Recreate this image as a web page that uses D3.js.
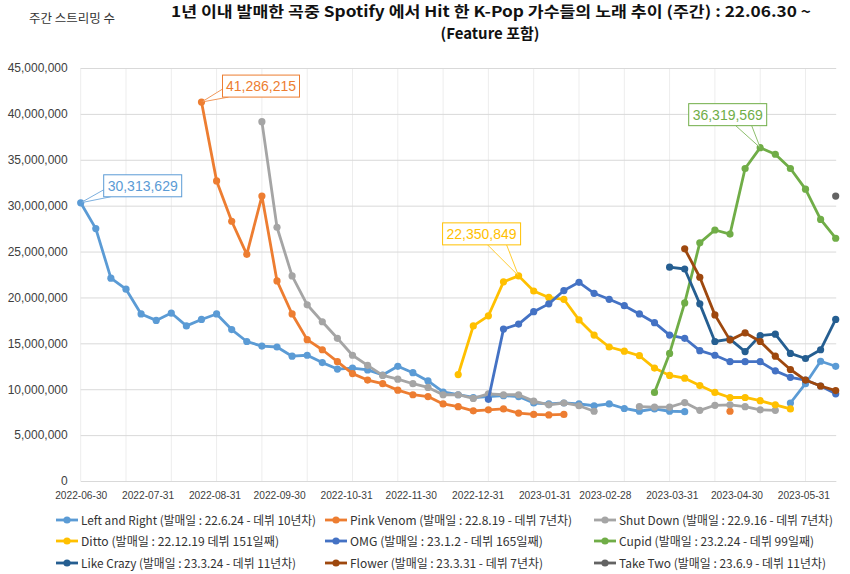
<!DOCTYPE html>
<html><head><meta charset="utf-8">
<script src="https://cdn.jsdelivr.net/npm/d3@7/dist/d3.min.js"></script>
<style>
body{margin:0;background:#fff}
svg{display:block;font-family:"Liberation Sans",Arial,"Noto Sans CJK KR",sans-serif}
</style>
</head><body>
<svg id="c" width="850" height="574"></svg>
<script>
const N = null;
const UNIT = 1e6; // values below are in millions of weekly streams

const weeks = ["2022-06-30","2022-07-07","2022-07-14","2022-07-21","2022-07-28","2022-08-04","2022-08-11","2022-08-18","2022-08-25","2022-09-01",
"2022-09-08","2022-09-15","2022-09-22","2022-09-29","2022-10-06","2022-10-13","2022-10-20","2022-10-27","2022-11-03","2022-11-10",
"2022-11-17","2022-11-24","2022-12-01","2022-12-08","2022-12-15","2022-12-22","2022-12-29","2023-01-05","2023-01-12","2023-01-19",
"2023-01-26","2023-02-02","2023-02-09","2023-02-16","2023-02-23","2023-03-02","2023-03-09","2023-03-16","2023-03-23","2023-03-30",
"2023-04-06","2023-04-13","2023-04-20","2023-04-27","2023-05-04","2023-05-11","2023-05-18","2023-05-25","2023-06-01","2023-06-08",
"2023-06-15"];

const xTickLabels = ["2022-06-30","2022-07-31","2022-08-31","2022-09-30","2022-10-31","2022-11-30","2022-12-31","2023-01-31","2023-02-28","2023-03-31","2023-04-30","2023-05-31"];
const yTicks = [0,5,10,15,20,25,30,35,40,45];

const leftAndRight = [30.313629,27.5,22.1,20.9,18.2,17.5,18.3,16.9,17.6,18.2,
16.5,15.2,14.7,14.6,13.6,13.7,12.9,12.2,12.3,12.1,
11.55,12.5,11.8,10.9,9.7,9.4,9.1,9.2,9.3,9.2,
8.5,8.4,8.5,8.4,8.2,8.4,7.9,7.6,7.85,7.6,
7.55,N,N,N,N,N,N,8.5,10.6,13.05,
12.5];
const pinkVenom = [N,N,N,N,N,N,N,N,41.286215,32.7,
28.3,24.7,31.05,21.8,18.2,15.4,14.3,13.0,11.7,11.0,
10.6,9.9,9.4,9.2,8.4,8.1,7.65,7.75,7.85,7.4,
7.25,7.2,7.25,N,N,N,N,N,N,N,
N,N,N,7.6,N,N,N,N,N,N,
N];
const shutDown = [N,N,N,N,N,N,N,N,N,N,
N,N,39.15,27.65,22.35,19.2,17.35,15.55,13.7,12.6,
11.5,11.1,10.6,10.2,9.4,9.4,9.0,9.5,9.4,9.4,
8.7,8.3,8.5,8.2,7.6,N,N,8.1,8.05,8.05,
8.55,7.7,8.25,8.3,8.1,7.75,7.7,N,N,N,
N];
const ditto = [N,N,N,N,N,N,N,N,N,N,
N,N,N,N,N,N,N,N,N,N,
N,N,N,N,N,11.6,16.9,18.0,21.7,22.350849,
20.7,20.0,19.8,17.55,15.9,14.6,14.15,13.65,12.3,11.5,
11.2,10.4,9.65,9.1,9.1,8.75,8.3,7.85,N,N,
N];
const omg = [N,N,N,N,N,N,N,N,N,N,
N,N,N,N,N,N,N,N,N,N,
N,N,N,N,N,N,N,8.9,16.55,17.1,
18.45,19.3,20.75,21.65,20.45,19.8,19.1,18.2,17.25,15.9,
15.55,14.2,13.7,13.0,13.0,13.0,12.0,11.3,11.0,10.35,
9.5];
const cupid = [N,N,N,N,N,N,N,N,N,N,
N,N,N,N,N,N,N,N,N,N,
N,N,N,N,N,N,N,N,N,N,
N,N,N,N,N,N,N,N,9.65,13.9,
19.4,25.95,27.35,26.9,34.05,36.319569,35.6,34.05,31.8,28.5,
26.45];
const likeCrazy = [N,N,N,N,N,N,N,N,N,N,
N,N,N,N,N,N,N,N,N,N,
N,N,N,N,N,N,N,N,N,N,
N,N,N,N,N,N,N,N,N,23.3,
23.1,19.3,15.2,15.45,14.1,15.85,16.0,13.9,13.35,14.3,
17.6];
const flower = [N,N,N,N,N,N,N,N,N,N,
N,N,N,N,N,N,N,N,N,N,
N,N,N,N,N,N,N,N,N,N,
N,N,N,N,N,N,N,N,N,N,
25.3,22.2,18.1,15.35,16.15,15.2,13.6,12.15,11.0,10.35,
9.85];
const takeTwo = [N,N,N,N,N,N,N,N,N,N,
N,N,N,N,N,N,N,N,N,N,
N,N,N,N,N,N,N,N,N,N,
N,N,N,N,N,N,N,N,N,N,
N,N,N,N,N,N,N,N,N,N,
31.05];

const seriesLabels = [
"Left and Right (발매일 : 22.6.24 - 데뷔 10년차)",
"Pink Venom (발매일 : 22.8.19  - 데뷔 7년차)",
"Shut Down (발매일 : 22.9.16 - 데뷔 7년차)",
"Ditto (발매일 : 22.12.19 데뷔 151일째)",
"OMG (발매일 : 23.1.2 - 데뷔 165일째)",
"Cupid (발매일 : 23.2.24 - 데뷔 99일째)",
"Like Crazy (발매일 : 23.3.24 - 데뷔 11년차)",
"Flower (발매일 : 23.3.31 - 데뷔 7년차)",
"Take Two (발매일 : 23.6.9 - 데뷔 11년차)"];
const seriesValues = [leftAndRight,pinkVenom,shutDown,ditto,omg,cupid,likeCrazy,flower,takeTwo];
const seriesColors = ["#5B9BD5","#ED7D31","#A5A5A5","#FFC000","#4472C4","#70AD47","#255E91","#9E480E","#636363"];

const titleLine1 = "1년 이내 발매한 곡중 Spotify 에서 Hit 한 K-Pop 가수들의 노래 추이 (주간) : 22.06.30 ~";
const titleLine2 = "(Feature 포함)";
const yAxisTitle = "주간 스트리밍 수";

// ---------- layout ----------
const parse = d3.timeParse("%Y-%m-%d");
const dates = weeks.map(parse);
const L = 80.7, R = 835.7, T = 68, B = 481;
const svg = d3.select("#c");
svg.append("rect").attr("width",850).attr("height",574).attr("fill","#fff");

const x = d3.scaleTime().domain([dates[0], dates[dates.length-1]]).range([L, R]);
const y = d3.scaleLinear().domain([0, 45*UNIT]).range([B, T]);

// vertical gridlines every 3 weeks
const vgrid = d3.range(0, dates.length, 3).map(i => dates[i]);
svg.append("g").selectAll("line").data(vgrid).join("line")
  .attr("x1", d => x(d)).attr("x2", d => x(d)).attr("y1", T).attr("y2", B)
  .attr("stroke", "#EDEDED").attr("stroke-width", 1);

// y axis with horizontal gridlines
const yAxis = d3.axisLeft(y).tickValues(yTicks.map(v => v*UNIT))
  .tickSize(-(R - L + 0.5)).tickPadding(13).tickFormat(d3.format(","));
const gy = svg.append("g").attr("transform", `translate(${L},0)`).call(yAxis);
gy.select(".domain").remove();
gy.selectAll(".tick line").attr("stroke", "#D9D9D9");
gy.selectAll(".tick text").attr("fill", "#404040").style("font-size", "12px")
  .style("font-family", '"Liberation Sans",Arial,sans-serif');

// x axis
const xAxis = d3.axisBottom(x).tickValues(xTickLabels.map(parse)).tickSize(0).tickPadding(11)
  .tickFormat(d3.timeFormat("%Y-%m-%d"));
const gx = svg.append("g").attr("transform", `translate(0,${B})`).call(xAxis);
gx.select(".domain").attr("stroke", "#D9D9D9");
gx.selectAll(".tick text").attr("fill", "#404040").style("font-size", "10.2px")
  .style("font-family", '"Liberation Sans",Arial,sans-serif');

// series
const line = d3.line().defined(d => d.v != null).x(d => x(d.date)).y(d => y(d.v*UNIT));
seriesValues.forEach((vals, s) => {
  const pts = vals.map((v, i) => ({date: dates[i], v}));
  const g = svg.append("g");
  g.append("path").datum(pts).attr("d", line).attr("fill", "none")
    .attr("stroke", seriesColors[s]).attr("stroke-width", 2.8).attr("stroke-linejoin", "round");
  g.selectAll("circle").data(pts.filter(d => d.v != null)).join("circle")
    .attr("cx", d => x(d.date)).attr("cy", d => y(d.v*UNIT)).attr("r", 3.6)
    .attr("fill", seriesColors[s]);
});

// callout data labels
const fmt = d3.format(",");
const callouts = [
  {s:0, i:0,  dx:23,    dy:-28, w:78, h:22, a:[[0,-7],[7,0]], wedgeBottom:false},
  {s:1, i:8,  dx:21,    dy:-27, w:77, h:22, a:[[0,-8],[6,0]], wedgeBottom:false},
  {s:3, i:29, dx:-76,   dy:-53, w:78, h:22, a:[[45,0],[64,0]], wedgeBottom:true},
  {s:5, i:45, dx:-71.5, dy:-44, w:78, h:22, a:[[47,0],[63,0]], wedgeBottom:true}
];
callouts.forEach(c => {
  const v = seriesValues[c.s][c.i];
  const px = x(dates[c.i]), py = y(v*UNIT);
  const bx = px + c.dx, by = py + c.dy;
  const col = seriesColors[c.s];
  const g = svg.append("g");
  const p1 = [bx + c.a[0][0], by + c.h + c.a[0][1]];
  const p2 = [bx + c.a[1][0], by + c.h + c.a[1][1]];
  g.append("path").attr("d", `M${p1[0]},${p1[1]}L${px},${py}L${p2[0]},${p2[1]}`)
    .attr("fill", "#fff").attr("stroke", col).attr("stroke-width", 0.8);
  g.append("rect").attr("x", bx).attr("y", by).attr("width", c.w).attr("height", c.h)
    .attr("fill", "#fff").attr("stroke", col).attr("stroke-width", 1);
  g.append("text").attr("x", bx + c.w/2).attr("y", by + c.h/2 + 5)
    .attr("text-anchor", "middle").attr("fill", col).style("font-size", "14px")
    .text(fmt(Math.round(v*UNIT)));
});

// titles
const KR = '"Noto Sans CJK KR","Noto Sans",sans-serif';
svg.append("text").attr("x", 171).attr("y", 17).attr("textLength", 640).attr("lengthAdjust", "spacingAndGlyphs")
  .style("font-family", KR).style("font-weight", "bold").style("font-size", "15px").attr("fill", "#111")
  .text(titleLine1);
svg.append("text").attr("x", 490).attr("y", 39).attr("text-anchor", "middle")
  .style("font-family", KR).style("font-weight", "bold").style("font-size", "15px").attr("fill", "#111")
  .text(titleLine2);
svg.append("text").attr("x", 29).attr("y", 23)
  .style("font-family", KR).style("font-size", "12.5px").attr("fill", "#333")
  .text(yAxisTitle);

// legend
const colX = [81, 350, 619];
const rowY = [520, 541, 563];
const legendW = [235, 222, 214, 198, 193, 195, 215, 193, 207];
seriesLabels.forEach((lab, s) => {
  const cx = colX[s % 3], cy = rowY[Math.floor(s / 3)];
  const g = svg.append("g");
  g.append("line").attr("x1", cx - 25).attr("x2", cx - 3).attr("y1", cy).attr("y2", cy)
    .attr("stroke", seriesColors[s]).attr("stroke-width", 2.8);
  g.append("circle").attr("cx", cx - 14).attr("cy", cy).attr("r", 3.6).attr("fill", seriesColors[s]);
  g.append("text").attr("x", cx).attr("y", cy + 4.5)
    .attr("textLength", legendW[s]).attr("lengthAdjust", "spacingAndGlyphs")
    .style("font-family", KR).style("font-size", "12px").attr("fill", "#333").text(lab);
});
</script>
</body></html>
